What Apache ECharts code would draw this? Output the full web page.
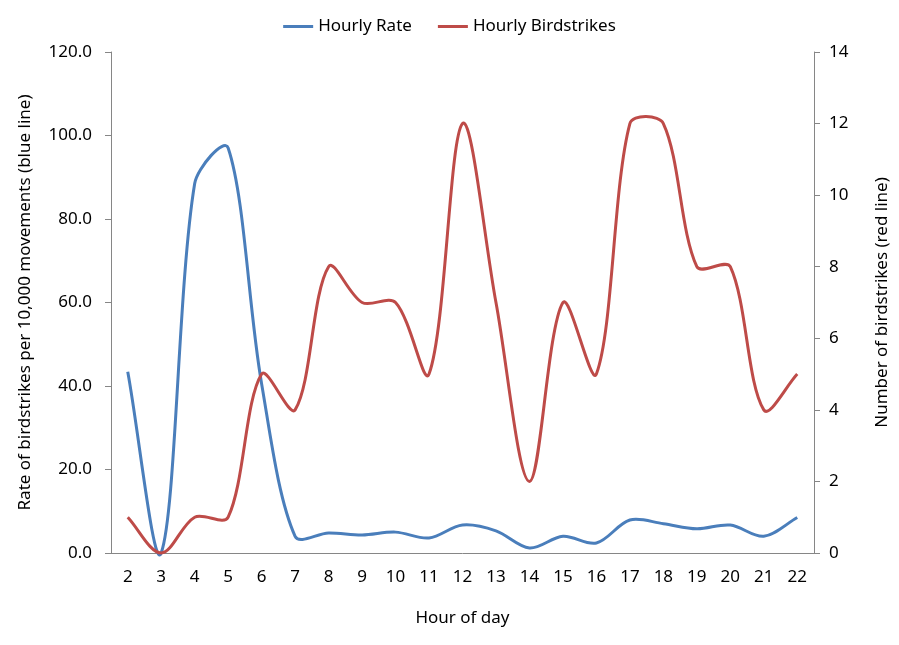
<!DOCTYPE html>
<html><head><meta charset="utf-8">
<script src="https://cdn.jsdelivr.net/npm/echarts@6/dist/echarts.min.js"></script>
<style>html,body{margin:0;padding:0;background:#fff}#c{width:899px;height:645px}</style>
</head><body><div id="c"></div>
<script>
var hours = ['2','3','4','5','6','7','8','9','10','11','12','13','14','15','16','17','18','19','20','21','22'];
var hourlyRate = [43.4, 0, 88.5, 97.0, 40.5, 4.0, 4.8, 4.3, 5.0, 3.6, 6.7, 5.3, 1.2, 4.0, 2.4, 7.9, 7.0, 5.8, 6.7, 4.0, 8.5];
var hourlyBirdstrikes = [1, 0, 1, 1, 5, 4, 8, 7, 7, 5, 12, 7, 2, 7, 5, 12, 12, 8, 8, 4, 5];
var FONT = "'Noto Sans',sans-serif";
var FS = 17;
var axisGray = '#868686';
var BLUE = '#4A7EBB', RED = '#BE4B48';

// Excel-like smoothed line: cubic Bezier through the data points,
// tangents weighted by neighbouring segment lengths
function smoothRender(values, color) {
  return function (params, api) {
    if (params.dataIndex !== 0) return null;
    var pts = values.map(function (v, i) { return api.coord([i, v]); });
    var n = pts.length;
    function dist(a, b) { return Math.sqrt((a[0]-b[0])*(a[0]-b[0]) + (a[1]-b[1])*(a[1]-b[1])); }
    var cin = [], cout = [];
    for (var i = 0; i < n; i++) {
      var p = pts[i];
      if (i === 0 || i === n - 1) {
        var q = pts[i === 0 ? 1 : n - 2];
        var c = [p[0] + (q[0]-p[0]) / 3, p[1] + (q[1]-p[1]) / 3];
        cin[i] = c; cout[i] = c; continue;
      }
      var a = pts[i-1], b = pts[i+1];
      var d1 = dist(a, p), d2 = dist(p, b), s = d1 + d2 || 1;
      var tx = b[0]-a[0], ty = b[1]-a[1];
      var k1 = Math.min(d2 / s / 3, 0.25), k0 = Math.min(d1 / s / 3, 0.25);
      cout[i] = [p[0] + tx * k1, p[1] + ty * k1];
      cin[i]  = [p[0] - tx * k0, p[1] - ty * k0];
    }
    var d = 'M' + pts[0][0] + ',' + pts[0][1];
    for (var j = 0; j < n - 1; j++) {
      d += ' C' + cout[j][0] + ',' + cout[j][1] + ' ' + cin[j+1][0] + ',' + cin[j+1][1] + ' ' + pts[j+1][0] + ',' + pts[j+1][1];
    }
    return {type: 'path', shape: {pathData: d}, style: {fill: 'none', stroke: color, lineWidth: 3, lineJoin: 'round'}};
  };
}

var chart = echarts.init(document.getElementById('c'));
chart.setOption({
  animation: false,
  textStyle: {fontFamily: FONT, color: '#000'},
  legend: {
    top: 13, left: 'center', itemWidth: 30, itemHeight: 3, itemGap: 26,
    textStyle: {fontFamily: FONT, fontSize: FS, color: '#000'},
    data: [{name: 'Hourly Rate', icon: 'rect', itemStyle: {color: BLUE}},
           {name: 'Hourly Birdstrikes', icon: 'rect', itemStyle: {color: RED}}]
  },
  grid: {left: 111, right: 81, top: 52, bottom: 92},
  xAxis: {
    type: 'category', data: hours, boundaryGap: true,
    name: 'Hour of day', nameLocation: 'middle', nameGap: 57,
    nameTextStyle: {fontFamily: FONT, fontSize: FS, color: '#000'},
    axisLine: {lineStyle: {color: axisGray}},
    axisTick: {lineStyle: {color: axisGray}, length: 6},
    axisLabel: {fontFamily: FONT, fontSize: FS, color: '#000', margin: 16}
  },
  yAxis: [{
    type: 'value', min: 0, max: 120, interval: 20,
    name: 'Rate of birdstrikes per 10,000 movements (blue line)',
    nameLocation: 'middle', nameGap: 77, nameRotate: 90,
    nameTextStyle: {fontFamily: FONT, fontSize: FS, color: '#000'},
    axisLine: {show: true, lineStyle: {color: axisGray}},
    axisTick: {show: true, lineStyle: {color: axisGray}, length: 6},
    splitLine: {show: false},
    axisLabel: {fontFamily: FONT, fontSize: FS, color: '#000', margin: 19,
      formatter: function (v) { return v.toFixed(1); }}
  }, {
    type: 'value', min: 0, max: 14, interval: 2, position: 'right',
    name: 'Number of birdstrikes (red line)',
    nameLocation: 'middle', nameGap: 60, nameRotate: 90,
    nameTextStyle: {fontFamily: FONT, fontSize: FS, color: '#000'},
    axisLine: {show: true, lineStyle: {color: axisGray}},
    axisTick: {show: true, lineStyle: {color: axisGray}, length: 6},
    splitLine: {show: false},
    axisLabel: {fontFamily: FONT, fontSize: FS, color: '#000', margin: 15}
  }],
  series: [{
    name: 'Hourly Rate', type: 'custom', yAxisIndex: 0,
    data: hourlyRate.map(function (v, i) { return [i, v]; }),
    encode: {x: 0, y: 1}, itemStyle: {color: BLUE},
    renderItem: smoothRender(hourlyRate, BLUE), silent: true
  }, {
    name: 'Hourly Birdstrikes', type: 'custom', yAxisIndex: 1,
    data: hourlyBirdstrikes.map(function (v, i) { return [i, v]; }),
    encode: {x: 0, y: 1}, itemStyle: {color: RED},
    renderItem: smoothRender(hourlyBirdstrikes, RED), silent: true
  }]
});
</script></body></html>
